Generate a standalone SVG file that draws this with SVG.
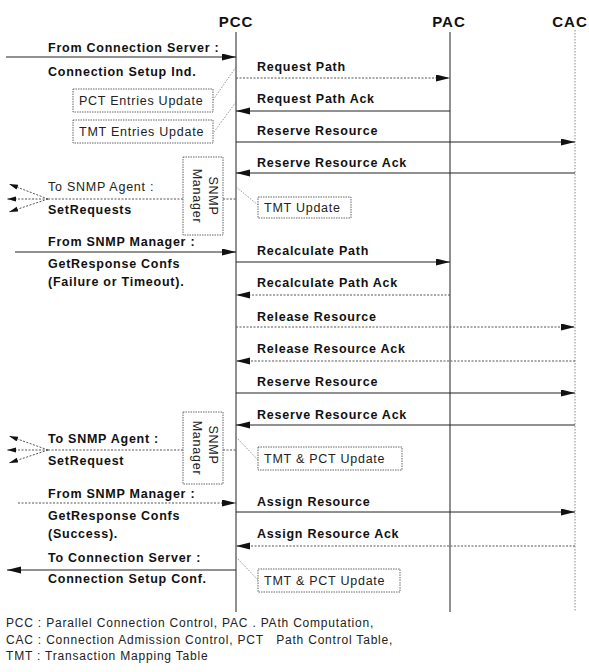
<svg xmlns="http://www.w3.org/2000/svg" width="589" height="672" viewBox="0 0 589 672">
<style>
.hdr{font-family:"Liberation Sans",Arial,sans-serif;font-weight:bold;font-size:15px;letter-spacing:1px;fill:#111;text-anchor:middle}
.msg{font-family:"Liberation Sans",Arial,sans-serif;font-weight:bold;font-size:12.5px;letter-spacing:0.75px;fill:#111}
.reg{font-family:"Liberation Sans",Arial,sans-serif;font-size:12.5px;letter-spacing:0.75px;fill:#222}
.leg{font-family:"Liberation Sans",Arial,sans-serif;font-size:12px;letter-spacing:0.8px;fill:#222;white-space:pre}
.life{stroke:#222;stroke-width:1;fill:none}
.lifed{stroke:#888;stroke-width:1;stroke-dasharray:1.5,1.5;fill:none}
.sol{stroke:#222;stroke-width:1;fill:none}
.dot{stroke:#555;stroke-width:1;stroke-dasharray:2,1.5;fill:none}
.box{fill:#fff;stroke:#666;stroke-width:1;stroke-dasharray:1.5,1}
.lnk{stroke:#777;stroke-width:0.8;stroke-dasharray:1.5,1.5;fill:none}
</style>
<defs>
<marker id="ah" markerUnits="userSpaceOnUse" markerWidth="14" markerHeight="8" refX="14" refY="3.5" orient="auto">
<path d="M0,0 L14,3.5 L0,7 z" fill="#111"/>
</marker>
<marker id="sh" markerUnits="userSpaceOnUse" markerWidth="9" markerHeight="6" refX="9" refY="2.5" orient="auto">
<path d="M0,0 L9,2.5 L0,5 z" fill="#111"/>
</marker>
</defs>

<g id="headers">
<text class="hdr" x="236" y="27">PCC</text>
<text class="hdr" x="449" y="27">PAC</text>
<text class="hdr" x="570" y="27">CAC</text>
</g>

<g id="lifelines">
<line class="life" x1="236" y1="32" x2="236" y2="612"/>
<line class="life" x1="450" y1="32" x2="450" y2="612"/>
<line class="lifed" x1="575" y1="30" x2="575" y2="612"/>
</g>

<g id="connectors">
<line class="sol" x1="6" y1="57" x2="236" y2="57" marker-end="url(#ah)"/>
<line class="dot" x1="236" y1="78" x2="450" y2="78" marker-end="url(#ah)"/>
<line class="sol" x1="450" y1="111" x2="236" y2="111" marker-end="url(#ah)"/>
<line class="sol" x1="236" y1="142" x2="575" y2="142" marker-end="url(#ah)"/>
<line class="sol" x1="575" y1="173" x2="236" y2="173" marker-end="url(#ah)"/>
<line class="dot" x1="48" y1="199" x2="183" y2="199"/>
<line class="dot" x1="223" y1="199" x2="236" y2="199"/>
<line class="dot" x1="48" y1="199" x2="9" y2="184" marker-end="url(#sh)"/>
<line class="dot" x1="48" y1="199" x2="7" y2="199" marker-end="url(#sh)"/>
<line class="dot" x1="48" y1="199" x2="9" y2="212" marker-end="url(#sh)"/>
<line class="sol" x1="15" y1="252" x2="236" y2="252" marker-end="url(#ah)"/>
<line class="sol" x1="236" y1="262" x2="450" y2="262" marker-end="url(#ah)"/>
<line class="dot" x1="450" y1="295" x2="236" y2="295" marker-end="url(#ah)"/>
<line class="dot" x1="236" y1="327" x2="575" y2="327" marker-end="url(#ah)"/>
<line class="dot" x1="575" y1="361" x2="236" y2="361" marker-end="url(#ah)"/>
<line class="sol" x1="236" y1="393" x2="575" y2="393" marker-end="url(#ah)"/>
<line class="sol" x1="575" y1="425" x2="236" y2="425" marker-end="url(#ah)"/>
<line class="dot" x1="48" y1="450" x2="183" y2="450"/>
<line class="dot" x1="223" y1="450" x2="236" y2="450"/>
<line class="dot" x1="48" y1="450" x2="9" y2="436" marker-end="url(#sh)"/>
<line class="dot" x1="48" y1="450" x2="7" y2="450" marker-end="url(#sh)"/>
<line class="dot" x1="48" y1="450" x2="9" y2="463" marker-end="url(#sh)"/>
<line class="dot" x1="18" y1="503" x2="236" y2="503" marker-end="url(#ah)"/>
<line class="sol" x1="236" y1="512" x2="575" y2="512" marker-end="url(#ah)"/>
<line class="dot" x1="575" y1="546" x2="236" y2="546" marker-end="url(#ah)"/>
<line class="sol" x1="236" y1="570" x2="7" y2="570" marker-end="url(#ah)"/>
<line class="lnk" x1="236" y1="67" x2="213" y2="100"/>
<line class="lnk" x1="236" y1="102" x2="214" y2="132"/>
<line class="lnk" x1="236" y1="187" x2="258" y2="205"/>
<line class="lnk" x1="236" y1="437" x2="258" y2="460"/>
<line class="lnk" x1="236" y1="557" x2="258" y2="580"/>
</g>

<g id="labels">
<text class="msg" x="48" y="52">From Connection Server :</text>
<text class="msg" x="48" y="76">Connection Setup Ind.</text>
<text class="msg" x="257" y="71">Request Path</text>
<text class="msg" x="257" y="103">Request Path Ack</text>
<text class="msg" x="257" y="135">Reserve Resource</text>
<text class="msg" x="257" y="167">Reserve Resource Ack</text>
<text class="reg" x="48" y="191">To SNMP Agent :</text>
<text class="msg" x="48" y="214">SetRequests</text>
<text class="msg" x="48" y="246">From SNMP Manager :</text>
<text class="msg" x="48" y="268">GetResponse Confs</text>
<text class="msg" x="48" y="286">(Failure or Timeout).</text>
<text class="msg" x="257" y="255">Recalculate Path</text>
<text class="msg" x="257" y="287">Recalculate Path Ack</text>
<text class="msg" x="257" y="321">Release Resource</text>
<text class="msg" x="257" y="353">Release Resource Ack</text>
<text class="msg" x="257" y="386">Reserve Resource</text>
<text class="msg" x="257" y="419">Reserve Resource Ack</text>
<text class="msg" x="48" y="443">To SNMP Agent :</text>
<text class="msg" x="48" y="465">SetRequest</text>
<text class="msg" x="48" y="498">From SNMP Manager :</text>
<text class="msg" x="48" y="520">GetResponse Confs</text>
<text class="msg" x="48" y="538">(Success).</text>
<text class="msg" x="257" y="506">Assign Resource</text>
<text class="msg" x="257" y="538">Assign Resource Ack</text>
<text class="msg" x="48" y="562">To Connection Server :</text>
<text class="msg" x="48" y="583">Connection Setup Conf.</text>
</g>

<g id="pct-entries-update">
<rect class="box" x="73" y="89" width="140" height="23"/>
<text class="reg" x="79" y="105">PCT Entries Update</text>
</g>
<g id="tmt-entries-update">
<rect class="box" x="73" y="120" width="140" height="23"/>
<text class="reg" x="79" y="136">TMT Entries Update</text>
</g>
<g id="snmp-manager-1">
<rect class="box" x="183" y="157" width="40" height="78"/>
<text class="reg" text-anchor="middle" transform="translate(208.5,196) rotate(90)">SNMP</text>
<text class="reg" text-anchor="middle" transform="translate(193,196) rotate(90)">Manager</text>
</g>
<g id="tmt-update">
<rect class="box" x="258" y="197" width="93" height="21"/>
<text class="reg" x="264" y="212">TMT Update</text>
</g>
<g id="snmp-manager-2">
<rect class="box" x="183" y="412" width="40" height="72"/>
<text class="reg" text-anchor="middle" transform="translate(208.5,445) rotate(90)">SNMP</text>
<text class="reg" text-anchor="middle" transform="translate(193,448) rotate(90)">Manager</text>
</g>
<g id="tmt-pct-update-1">
<rect class="box" x="258" y="447" width="144" height="23"/>
<text class="reg" x="264" y="463">TMT &amp; PCT Update</text>
</g>
<g id="tmt-pct-update-2">
<rect class="box" x="258" y="569" width="142" height="23"/>
<text class="reg" x="264" y="585">TMT &amp; PCT Update</text>
</g>

<g id="legend">
<text class="leg" x="6" y="627">PCC : Parallel Connection Control, PAC . PAth Computation,</text>
<text class="leg" x="6" y="644">CAC : Connection Admission Control, PCT   Path Control Table,</text>
<text class="leg" x="6" y="660">TMT : Transaction Mapping Table</text>
</g>
</svg>
